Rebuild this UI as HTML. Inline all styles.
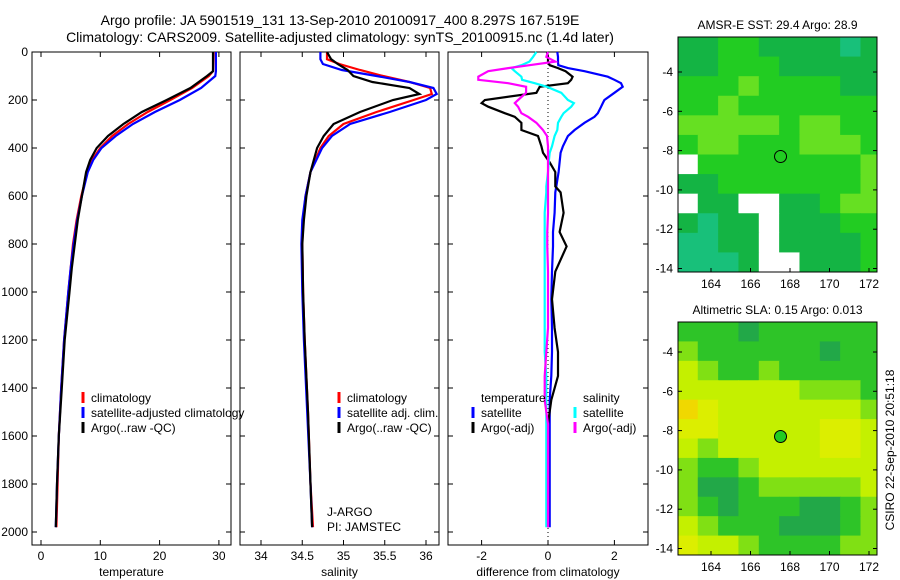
<!DOCTYPE html>
<html><head><meta charset="utf-8">
<style>
html,body{margin:0;padding:0;background:#fff;}
svg{display:block;font-family:"Liberation Sans",sans-serif;}
text{fill:#000;}
</style></head>
<body>
<svg id="fig" width="900" height="580" viewBox="0 0 900 580" xmlns="http://www.w3.org/2000/svg">
<defs>
<clipPath id="c1"><rect x="678" y="37" width="199" height="235"/></clipPath>
<clipPath id="c2"><rect x="678" y="322" width="199" height="233"/></clipPath>
</defs>
<text x="340" y="25" font-size="14" text-anchor="middle">Argo profile: JA 5901519_131 13-Sep-2010 20100917_400 8.297S 167.519E</text>
<text x="340" y="42" font-size="14" text-anchor="middle">Climatology: CARS2009. Satellite-adjusted climatology: synTS_20100915.nc (1.4d later)</text>
<g id="p1"></g>
<g id="p2"></g>
<g id="p3"></g>
<g id="m1"></g>
<g id="m2"></g>
<text x="0" y="0" font-size="12" transform="translate(894,450) rotate(-90)" text-anchor="middle">CSIRO 22-Sep-2010 20:51:18</text>
</svg>
<script>
// ---- data ----
const tDepth=[0,80,100,150,200,250,300,350,400,450,500,600,700,800,900,1000,1200,1400,1600,1800,1980];
const tClim=[29.1,29.0,28.3,25.5,21.8,18,14.7,12,10,8.6,7.8,6.8,6.0,5.4,5.0,4.6,3.9,3.4,3.0,2.8,2.6];
const tSat=[29.5,29.5,29.4,27,23.4,19.2,15.5,12.6,10.2,8.8,7.9,6.9,6.1,5.5,5.0,4.6,3.9,3.4,3.0,2.7,2.5];
const tArgo=[29.0,29.0,28.0,25.2,21.2,17,13.9,11.3,9.4,8.3,7.6,6.9,6.2,5.7,5.2,4.8,4.0,3.5,3.0,2.7,2.5];
const sDepth=[0,30,50,75,100,125,150,175,200,250,300,350,400,500,600,700,800,1000,1200,1500,1800,1980];
const sClim=[34.8,34.8,34.95,35.2,35.48,35.8,36.05,36.07,35.85,35.4,35.0,34.82,34.72,34.6,34.54,34.51,34.5,34.51,34.53,34.57,34.6,34.63];
const sSat=[34.72,34.72,34.75,34.98,35.4,35.8,36.09,36.13,36.0,35.56,35.08,34.86,34.74,34.6,34.54,34.5,34.49,34.5,34.52,34.56,34.6,34.62];
const sArgo=[34.8,34.85,34.93,35.05,35.12,35.35,35.8,35.92,35.6,35.2,34.88,34.76,34.68,34.6,34.55,34.52,34.5,34.51,34.53,34.57,34.6,34.62];
const dDepth=[0,20,40,55,67,80,103,116,130,145,170,200,213,228,255,270,295,325,350,393,420,460,500,560,585,670,750,810,915,1030,1150,1250,1350,1450,1550,1700,1850,1980];
const dTSat=[0.28,0.3,0.3,0.31,0.6,1.1,1.8,2.0,2.2,2.25,2.0,1.7,1.65,1.6,1.5,1.4,1.1,0.8,0.6,0.45,0.38,0.35,0.32,0.25,0.22,0.2,0.15,0.15,0.12,0.1,0.12,0.12,0.1,0.05,0.05,0.05,0.05,0.05];
const dTArgo=[-0.03,0.0,0.0,0.05,0.3,0.53,0.74,0.7,0.6,-0.25,-0.35,-1.9,-2.0,-1.8,-1.3,-1.0,-0.8,-0.8,-0.3,-0.2,-0.15,0.05,0.22,0.22,0.38,0.47,0.35,0.56,0.22,0.12,0.2,0.3,0.3,0.1,0.0,0.0,0.0,0.0];
const dSSat=[-0.35,-0.45,-0.56,-0.8,-1.1,-1.0,-0.8,-0.78,-0.4,-0.03,0.4,0.6,0.78,0.7,0.47,0.4,0.3,0.28,0.2,0.12,0.05,0.02,0.0,-0.05,-0.05,-0.1,-0.1,-0.1,-0.1,-0.1,-0.1,-0.1,-0.05,-0.05,-0.05,-0.05,-0.05,-0.05];
const dSArgo=[0.0,-0.05,0.22,-0.56,-1.2,-1.8,-2.1,-2.1,-1.2,-0.66,-0.66,-0.9,-1.0,-0.9,-0.8,-0.6,-0.35,-0.15,-0.03,0.0,0.0,0.0,0.0,0.0,0.0,0.0,-0.02,-0.02,0.0,0.0,0.0,-0.05,-0.1,-0.1,0.0,0.0,0.0,0.0];
const depthTicks=[0,200,400,600,800,1000,1200,1400,1600,1800,2000];
const tTicks=[0,10,20,30];
const sTicks=[34,34.5,35,35.5,36];
const sTickLabels=["34","34.5","35","35.5","36"];
const dTicks=[-2,0,2];
const lonTicks=[164,166,168,170,172];
const latTicks=[-4,-6,-8,-10,-12,-14];
const sstGrid=[
"1122111101","1122211111","2223222211","2232222222","3333323322","2332223332",
"W222222223","1122222223","W11WW11233","1011W11122","0011W11112","0001WW1112"];
const slaGrid=[
"1110111111","2111111011","3211211111","3333332221","5433333332","4433333443",
"3233333443","2112333333","2001222223","2101110012","3211100012","4332111122"];
const sstColors={"0":"#18c07a","1":"#14b444","2":"#22cc22","3":"#66e022","W":"#ffffff"};
const slaColors={"0":"#22a848","1":"#2ec428","2":"#80e014","3":"#c4f000","4":"#dcee00","5":"#f0d800"};
const argoLon=167.52, argoLat=-8.3;

const NS="http://www.w3.org/2000/svg";
function mk(tag,attrs,parent){const e=document.createElementNS(NS,tag);for(const k in attrs)e.setAttribute(k,attrs[k]);parent.appendChild(e);return e;}
const yD=d=>52+d*0.24;

function panel(g,x0,x1,xs,ticks,labels,xlabel,showY){
  const r=mk('rect',{x:x0,y:52,width:x1-x0,height:493,fill:'none',stroke:'#000','stroke-width':1},g);
  
  
  depthTicks.forEach(d=>{
    mk('line',{x1:x0,x2:x0+5,y1:yD(d),y2:yD(d),stroke:'#000'},g);
    mk('line',{x1:x1,x2:x1-5,y1:yD(d),y2:yD(d),stroke:'#000'},g);
    if(showY){const t=mk('text',{x:x0-4,y:yD(d)+4,'font-size':12,'text-anchor':'end'},g);t.textContent=d;
      
      }
  });
  ticks.forEach((v,i)=>{
    mk('line',{x1:xs(v),x2:xs(v),y1:545,y2:540,stroke:'#000'},g);
    mk('line',{x1:xs(v),x2:xs(v),y1:52,y2:57,stroke:'#000'},g);
    const t=mk('text',{x:xs(v),y:560,'font-size':12,'text-anchor':'middle'},g);t.textContent=labels[i];
    
    
  });
  const t=mk('text',{x:(x0+x1)/2,y:576,'font-size':12,'text-anchor':'middle'},g);t.textContent=xlabel;
  
  
}
function line(g,xs,vals,depths,color,name,x0,x1){
  const pts=vals.map((v,i)=>Math.max(x0,Math.min(x1,xs(v))).toFixed(1)+','+yD(depths[i]).toFixed(1)).join(' ');
  const p=mk('polyline',{points:pts,fill:'none',stroke:color,'stroke-width':2.2},g);
  
  
}
function legend(g,x,y,color,label){
  if(color){const l=mk('line',{x1:x,x2:x,y1:y-10,y2:y+1,stroke:color,'stroke-width':3},g);
    
    }
  const t=mk('text',{x:x+8,y:y,'font-size':12},g);t.textContent=label;
  
  
}
// panel 1
const g1=document.getElementById('p1');const xT=v=>41+v*5.93;
panel(g1,32,231,xT,tTicks,tTicks.map(String),'temperature',true);
line(g1,xT,tClim,tDepth,'#ff0000','temp-climatology-line',32,231);
line(g1,xT,tSat,tDepth,'#0000ff','temp-satellite-line',32,231);
line(g1,xT,tArgo,tDepth,'#000000','temp-argo-line',32,231);
legend(g1,83,402,'#ff0000','climatology');
legend(g1,83,417,'#0000ff','satellite-adjusted climatology');
legend(g1,83,432,'#000000','Argo(..raw -QC)');
// panel 2
const g2=document.getElementById('p2');const xS=v=>261+(v-34)*82.5;
panel(g2,240,439,xS,sTicks,sTickLabels,'salinity',false);
line(g2,xS,sClim,sDepth,'#ff0000','sal-climatology-line',240,439);
line(g2,xS,sSat,sDepth,'#0000ff','sal-satellite-line',240,439);
line(g2,xS,sArgo,sDepth,'#000000','sal-argo-line',240,439);
legend(g2,339,402,'#ff0000','climatology');
legend(g2,339,417,'#0000ff','satellite adj. clim.');
legend(g2,339,432,'#000000','Argo(..raw -QC)');
const j1=mk('text',{x:327,y:516,'font-size':12},g2);j1.textContent='J-ARGO';


const j2=mk('text',{x:327,y:531,'font-size':12},g2);j2.textContent='PI: JAMSTEC';


// panel 3
const g3=document.getElementById('p3');const xDf=v=>548+v*33.2;
panel(g3,448,648,xDf,dTicks,dTicks.map(String),'difference from climatology',false);
mk('line',{x1:548,x2:548,y1:52,y2:545,stroke:'#000','stroke-dasharray':'1,3'},g3);
line(g3,xDf,dTSat,dDepth,'#0000ff','temp-sat-diff-line',448,648);
line(g3,xDf,dTArgo,dDepth,'#000000','temp-argo-diff-line',448,648);
line(g3,xDf,dSSat,dDepth,'#00ffff','sal-sat-diff-line',448,648);
line(g3,xDf,dSArgo,dDepth,'#ff00ff','sal-argo-diff-line',448,648);
legend(g3,473,402,null,'temperature');
legend(g3,473,417,'#0000ff','satellite');
legend(g3,473,432,'#000000','Argo(-adj)');
legend(g3,575,402,null,'salinity');
legend(g3,575,417,'#00ffff','satellite');
legend(g3,575,432,'#ff00ff','Argo(-adj)');
// maps
function map(g,top,bottom,grid,colors,title,latAt4,filledCircle,clip){
  const x0=678,x1=877,lon0=162.3,lon1=172.6;
  const lx=v=>711+(v-164)*19.75;
  const ly=v=>latAt4+(-4-v)*19.65;
  const lat0=-4+(latAt4-top)/19.65;
  const rows=grid.length,cols=grid[0].length;
  const cw=(lon1-lon0)/cols, ch=(lat0-(-4-(bottom-latAt4)/19.65))/rows;
  const cg=mk('g',{'clip-path':'url(#'+clip+')'},g);
  for(let r=0;r<rows;r++)for(let c=0;c<cols;c++){
    const xa=lx(lon0+c*cw),xb=lx(lon0+(c+1)*cw),ya=ly(lat0-r*ch),yb=ly(lat0-(r+1)*ch);
    const cell=mk('rect',{x:xa,y:ya,width:xb-xa+0.5,height:yb-ya+0.5,fill:colors[grid[r][c]]},cg);
    
    
  }
  mk('rect',{x:x0,y:top,width:x1-x0,height:bottom-top,fill:'none',stroke:'#000'},g);
  lonTicks.forEach(v=>{
    mk('line',{x1:lx(v),x2:lx(v),y1:bottom,y2:bottom-4,stroke:'#000'},g);
    const t=mk('text',{x:lx(v),y:bottom+16,'font-size':12,'text-anchor':'middle'},g);t.textContent=v;
    
    
  });
  latTicks.forEach(v=>{
    mk('line',{x1:x1,x2:x1-4,y1:ly(v),y2:ly(v),stroke:'#000'},g);
    mk('line',{x1:x0,x2:x0+4,y1:ly(v),y2:ly(v),stroke:'#000'},g);
    const t=mk('text',{x:x0-5,y:ly(v)+4,'font-size':12,'text-anchor':'end'},g);t.textContent=v;
    
    
  });
  const c=mk('circle',{cx:lx(argoLon),cy:ly(argoLat),r:6,fill:filledCircle?'#22cc22':'none',stroke:'#000'},g);
  
  
  const t=mk('text',{x:(x0+x1)/2,y:top-8,'font-size':12,'text-anchor':'middle'},g);t.textContent=title;
  
  
}
map(document.getElementById('m1'),37,272,sstGrid,sstColors,'AMSR-E SST: 29.4 Argo: 28.9',72,false,'c1');
map(document.getElementById('m2'),322,555,slaGrid,slaColors,'Altimetric SLA: 0.15 Argo: 0.013',352,true,'c2');
</script>
</body></html>
